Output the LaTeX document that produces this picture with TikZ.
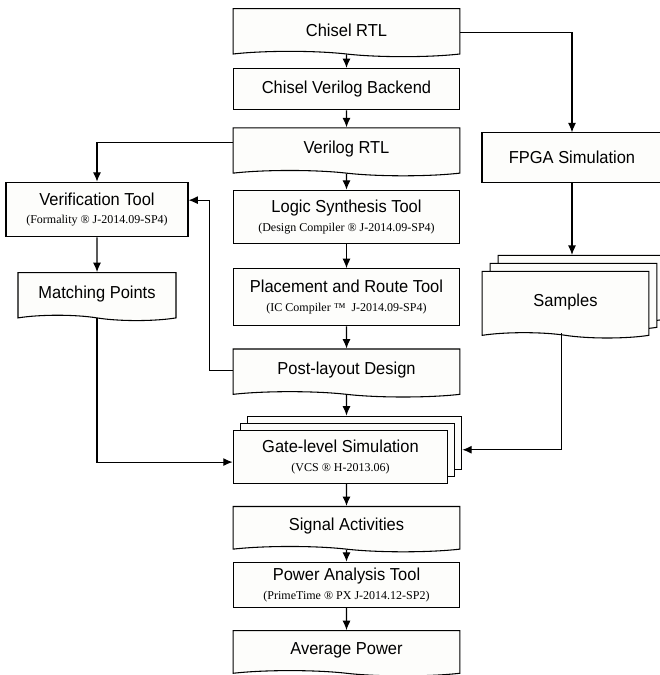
\documentclass[tikz,border=0pt]{standalone}
\usepackage{fontspec}
\usetikzlibrary{shapes,arrows,shadows}
\usetikzlibrary{arrows.meta}
\usetikzlibrary{positioning}
\newfontfamily\titlefont{Liberation Sans}[FakeStretch=0.95]
\newfontfamily\notefont{Liberation Serif}
\newcommand{\toolnote}[1]{\\[-1pt]{\notefont\fontsize{9}{10}\selectfont #1}}
\definecolor{boxfill}{HTML}{FDFDFB}

\begin{document}
\begin{tikzpicture}
        [x=0.75pt, y=-0.75pt,
         >={Latex[length=7pt,width=6pt]},
         every node/.style={font=\titlefont\fontsize{13}{15}\selectfont},
         block/.style={draw, thick, fill=boxfill, align=center, minimum width=170pt, minimum height=31pt, inner sep=2pt},
         docu/.style={block, tape, tape bend top=none, tape bend bottom=out and in, tape bend height=4pt, minimum height=36pt},
         stack/.style={copy shadow={shadow xshift=#1, shadow yshift=#1, fill=boxfill, draw=black, thick}}]
        \useasboundingbox (0,0) rectangle (660,675);
        \node [docu] (chisel) at (346.5,30) {Chisel RTL};
        \node [block, below=12pt of chisel] (backend) {Chisel Verilog Backend};
        \node [docu, below=12.75pt of backend] (verilog) {Verilog RTL};
        \node [block, minimum height=40pt, below=14pt of verilog] (synth) {Logic Synthesis Tool\toolnote{(Design Compiler ® J-2014.09-SP4)}};
        \node [block, minimum height=43pt, below=18pt of synth] (pnr) {Placement and Route Tool\toolnote{(IC Compiler ™ \ J-2014.09-SP4)}};
        \node [docu, below=16.5pt of pnr] (post) {Post-layout Design};
        \node [block, stack=10.5pt, stack=5.25pt, minimum width=161pt, minimum height=40pt, below=28pt of post, xshift=-4.5pt] (gate) {Gate-level Simulation\toolnote{(VCS ® H-2013.06)}};
        \node [docu, minimum height=34pt, below=16.5pt of gate.south -| post.south, anchor=north] (signal) {Signal Activities};
        \node [block, minimum height=34pt, below=11pt of signal] (power) {Power Analysis Tool\toolnote{(PrimeTime ® PX J-2014.12-SP2)}};
        \node [docu, minimum height=34pt, below=16.5pt of power] (avg) {Average Power};
        \node [block, minimum width=136.5pt, minimum height=41pt] (verif) at (97,209.5) {Verification Tool\toolnote{(Formality ® J-2014.09-SP4)}};
        \node [docu, minimum width=118.5pt, below=26pt of verif] (match) {Matching Points};
        \node [block, minimum width=135pt, minimum height=37pt] (fpga) at (572,157.5) {FPGA Simulation};
        \node [docu, stack=12pt, stack=6pt, minimum width=125pt, minimum height=50pt] (samples) at (565.5,302) {Samples};

        \draw [thick, ->] (chisel) -- (backend);
        \draw [thick, ->] (backend) -- (verilog);
        \draw [thick, ->] (verilog) -- (synth);
        \draw [thick, ->] (synth) -- (pnr);
        \draw [thick, ->] (pnr) -- (post);
        \draw [thick, ->] (post) -- ([yshift=10.5pt]gate.north -| post.south);
        \draw [thick, ->] (signal.north |- gate.south) -- (signal);
        \draw [thick, ->] (signal) -- (power);
        \draw [thick, ->] (power) -- (avg);
        \draw [thick, ->] ([yshift=-2pt]chisel.east) -| (fpga);
        \draw [thick, ->] ([yshift=5pt]verilog.west) -| (verif);
        \draw [thick, ->] (verif) -- (match);
        \draw [thick, ->] (post.west) -- ++(-23,0) |- ([yshift=7pt]verif.east);
        \draw [thick, ->] (match) |- ([yshift=-4pt]gate.west);
        \draw [thick, ->] (fpga) -- ([yshift=12pt]samples.north -| fpga.south);
        \draw [thick, ->] ([xshift=-3pt]samples.south) |- ([xshift=10.5pt, yshift=5.25pt]gate.east);
    \end{tikzpicture}
\end{document}
